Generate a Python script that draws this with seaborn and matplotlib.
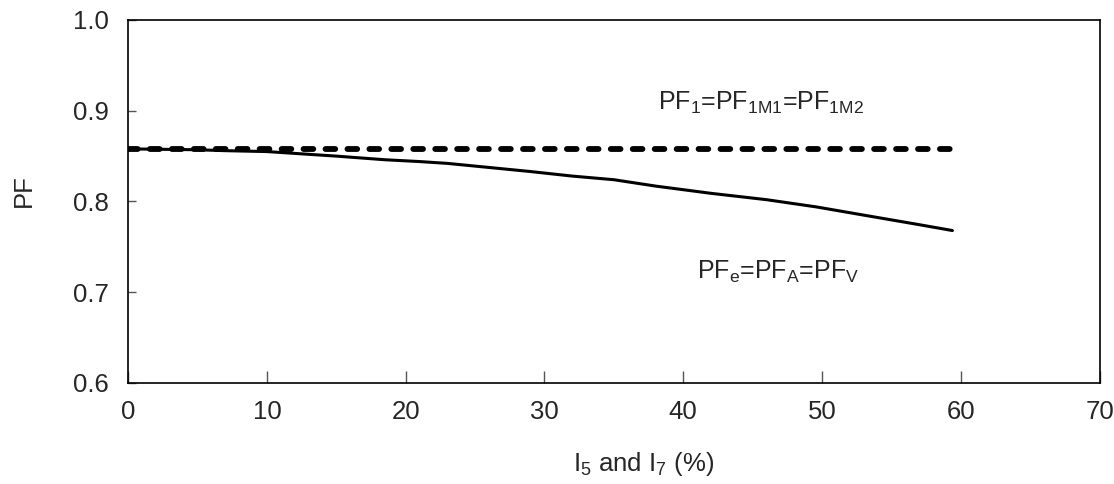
import matplotlib
matplotlib.use("Agg")
import matplotlib.pyplot as plt
import seaborn as sns
import pandas as pd

# Data
harm_pct = [0, 5, 7, 10, 12, 15, 18.5, 21, 23, 25, 27, 29, 32, 35, 38, 42, 46, 49.6, 53, 56.8, 59.4]
pf_e = [0.858, 0.857, 0.856, 0.855, 0.853, 0.850, 0.846, 0.844, 0.842, 0.839, 0.836, 0.833,
        0.828, 0.824, 0.817, 0.809, 0.802, 0.794, 0.785, 0.775, 0.768]
harm_pct_const = [0, 59.4]
pf_1 = [0.858, 0.858]

x_ticks = [0, 10, 20, 30, 40, 50, 60, 70]
y_ticks = [0.6, 0.7, 0.8, 0.9, 1.0]

sns.set_style("white")
plt.rcParams['font.family'] = ['Liberation Sans', 'DejaVu Sans']
plt.rcParams['mathtext.fontset'] = 'custom'
plt.rcParams['mathtext.rm'] = 'Liberation Sans'
plt.rcParams['mathtext.it'] = 'Liberation Sans'
plt.rcParams['mathtext.default'] = 'regular'
plt.rcParams['lines.scale_dashes'] = False

fig = plt.figure(figsize=(11.14, 4.84), dpi=100)
ax = fig.add_axes([0.115, 0.2087, 0.872, 0.75])

df_e = pd.DataFrame({"x": harm_pct, "pf": pf_e})
df_1 = pd.DataFrame({"x": harm_pct_const, "pf": pf_1})

sns.lineplot(data=df_e, x="x", y="pf", ax=ax, color="black", linewidth=2.2)
sns.lineplot(data=df_1, x="x", y="pf", ax=ax, color="black", linewidth=4.2)
dl = ax.lines[-1]
dl.set_dashes([7.0, 8.8])
dl.set_dash_capstyle('round')

ax.set_xlim(0, 70)
ax.set_ylim(0.6, 1.0)
ax.set_xticks(x_ticks)
ax.set_yticks(y_ticks)
ax.set_xticklabels([str(t) for t in x_ticks])
ax.set_yticklabels([f"{t:.1f}" for t in y_ticks])

for s in ax.spines.values():
    s.set_visible(True)
    s.set_color("black")
    s.set_linewidth(1.2)

ax.tick_params(axis='x', direction='in', length=9, width=1, color='#555555',
               labelsize=18.5, pad=12, top=False, bottom=True)
ax.tick_params(axis='y', direction='in', length=6, width=1, color='#555555',
               labelsize=18.5, pad=14, left=True, right=False)

ax.set_xlabel(r"I$_5$ and I$_7$ (%)", fontsize=18.5)
ax.set_ylabel("PF", fontsize=18.5)
ax.xaxis.set_label_coords(0.531, -0.185)
ax.yaxis.set_label_coords(-0.095, 0.53)

ax.text(38.2, 0.909, r"PF$_1$=PF$_{1M1}$=PF$_{1M2}$", fontsize=18, va='center', ha='left')
ax.text(41.0, 0.722, r"PF$_e$=PF$_A$=PF$_V$", fontsize=18, va='center', ha='left')

fig.savefig("out.png", dpi=100)
